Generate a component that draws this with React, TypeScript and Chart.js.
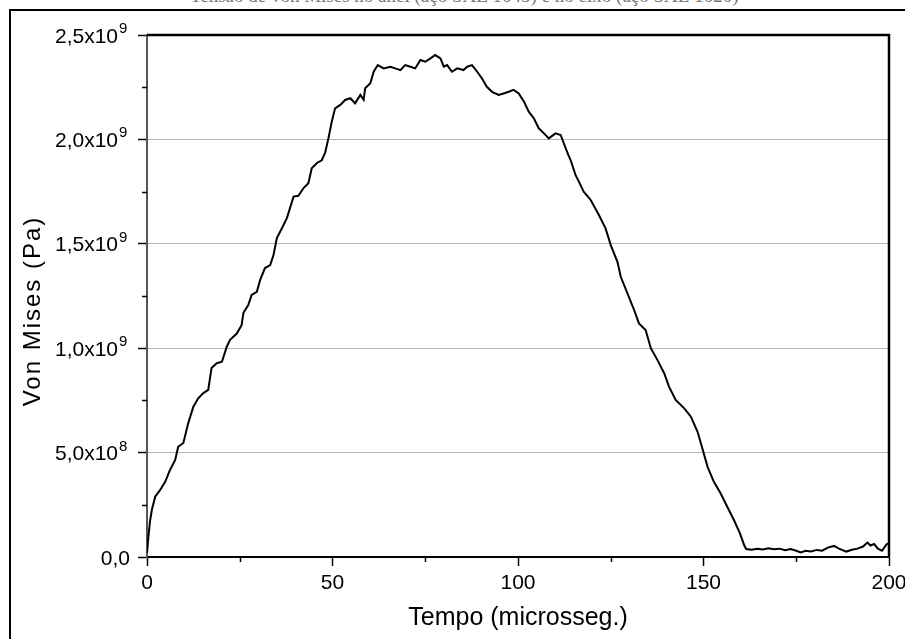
import React, { useEffect, useRef } from 'react';
import { Chart, registerables } from 'chart.js';

Chart.register(...registerables);

// Time in microseconds
const timeUs = [
  0, 0.4, 0.8, 1.3, 2.2, 3.5, 4.9, 6.2, 7.6, 8.4, 9.8, 11.1, 12.5, 13.8, 15.2, 16.5, 17.4, 18.8, 20.2,
  21.5, 22.4, 24.2, 25.5, 26.0, 27.3, 28.2, 29.6, 30.5, 31.8, 33.2, 34.1, 35.0, 36.4, 37.7, 39.5,
  40.8, 42.2, 43.5, 44.4, 45.8, 47.1, 48.0, 48.9, 49.8, 50.7, 52.1, 53.4, 54.8, 56.1, 57.5, 58.4,
  58.8, 60.2, 61.1, 62.2, 63.8, 65.6, 66.9, 68.3, 69.6, 71.0, 72.3, 73.7, 75.0, 76.4, 77.7, 79.1,
  80.0, 80.9, 82.2, 83.6, 85.3, 86.3, 87.6, 89.0, 90.3, 91.6, 93.0, 94.8, 96.1, 97.5, 98.8, 100.2,
  101.6, 102.9, 104.3, 105.6, 107.0, 108.3, 110.1, 111.5, 112.8, 113.7, 114.2, 115.5, 116.9, 117.7,
  119.6, 121.8, 123.6, 125.0, 126.8, 127.7, 129.5, 131.3, 132.6, 134.4, 135.8, 137.6, 139.4, 140.7,
  142.5, 144.8, 146.6, 148.4, 149.7, 151.1, 152.8, 154.6, 156.4, 158.2, 159.8, 160.5, 161.0, 161.5,
  163, 164.5, 166, 167.5, 169, 170.5, 172, 173.5, 175, 176.2, 177.5, 179, 180.5, 182, 183.5, 185.2,
  186.5, 188.5, 190, 191.5, 193, 194.2, 195, 196, 197, 198.1, 199.4, 200,
];

// Von Mises stress in units of 1e9 Pa
const vonMisesGPa = [
  0.02, 0.10, 0.17, 0.225, 0.289, 0.32, 0.36, 0.417, 0.465, 0.528, 0.546, 0.64, 0.72, 0.76, 0.785, 0.80, 0.905, 0.928, 0.935,
  1.007, 1.04, 1.07, 1.11, 1.17, 1.207, 1.255, 1.27, 1.327, 1.384, 1.398, 1.446, 1.527, 1.576, 1.623, 1.726,
  1.73, 1.767, 1.79, 1.862, 1.887, 1.90, 1.935, 2.005, 2.085, 2.149, 2.165, 2.189, 2.197, 2.173, 2.213, 2.19,
  2.245, 2.269, 2.324, 2.356, 2.34, 2.348, 2.34, 2.332, 2.356, 2.348, 2.34, 2.38, 2.372, 2.388, 2.404, 2.388,
  2.348, 2.356, 2.324, 2.34, 2.332, 2.348, 2.356, 2.324, 2.292, 2.252, 2.228, 2.213, 2.22, 2.228, 2.237, 2.22,
  2.181, 2.133, 2.10, 2.053, 2.029, 2.005, 2.029, 2.021, 1.96, 1.92, 1.90, 1.83, 1.78, 1.75,
  1.71, 1.638, 1.574, 1.494, 1.414, 1.342, 1.263, 1.183, 1.119, 1.087, 1.0, 0.943, 0.88, 0.816,
  0.752, 0.712, 0.672, 0.60, 0.52, 0.432, 0.36, 0.305, 0.241, 0.177, 0.114, 0.08, 0.055, 0.038,
  0.035, 0.04, 0.036, 0.042, 0.037, 0.04, 0.033, 0.038, 0.03, 0.022, 0.03, 0.026, 0.034, 0.03, 0.045, 0.053,
  0.04, 0.026, 0.035, 0.04, 0.05, 0.069, 0.055, 0.062, 0.04, 0.03, 0.062, 0.065,
];

const xMinorTicks = [25, 75, 125, 175];
const yMinorTicksGPa = [0.25, 0.75, 1.25, 1.75, 2.25];

const caption = 'Tensão de von Mises no anel (aço SAE 1045) e no eixo (aço SAE 1020)';
const xTitle = 'Tempo (microsseg.)';
const yTitle = 'Von Mises (Pa)';

const FONT = '"Liberation Sans", Arial, Helvetica, sans-serif';

function splitSci(v: number): { mant: string; exp: string } {
  if (v === 0) return { mant: '0,0', exp: '' };
  const e = Math.floor(Math.log10(Math.abs(v)) + 1e-9);
  const m = v / Math.pow(10, e);
  return { mant: m.toFixed(1).replace('.', ',') + 'x10', exp: String(e) };
}

const framePlugin = {
  id: 'framePlugin',
  afterDraw(chart: any) {
    const { ctx, chartArea: a, scales } = chart;
    const xs = scales.x;
    const ys = scales.y;
    ctx.save();
    // minor ticks
    ctx.strokeStyle = '#000';
    ctx.lineWidth = 1.5;
    for (const t of xMinorTicks) {
      const px = Math.round(xs.getPixelForValue(t)) + 0.5;
      ctx.beginPath();
      ctx.moveTo(px, a.bottom);
      ctx.lineTo(px, a.bottom + 5);
      ctx.stroke();
    }
    for (const v of yMinorTicksGPa) {
      const py = Math.round(ys.getPixelForValue(v * 1e9)) + 0.5;
      ctx.beginPath();
      ctx.moveTo(a.left, py);
      ctx.lineTo(a.left - 5, py);
      ctx.stroke();
    }
    // top and right border of the plot box
    ctx.lineWidth = 2.5;
    ctx.beginPath();
    ctx.moveTo(a.left, a.top);
    ctx.lineTo(a.right, a.top);
    ctx.lineTo(a.right, a.bottom);
    ctx.stroke();

    // y tick labels with superscript exponents
    ctx.fillStyle = '#000';
    for (const tk of ys.ticks) {
      const v = tk.value;
      const py = ys.getPixelForValue(v);
      const { mant, exp } = splitSci(v);
      ctx.font = `21px ${FONT}`;
      ctx.textBaseline = 'alphabetic';
      ctx.textAlign = 'right';
      if (!exp) {
        ctx.fillText(mant, a.left - 17, py + 7.5);
      } else {
        ctx.fillText(mant, a.left - 29, py + 7.5);
        ctx.font = `15px ${FONT}`;
        ctx.textAlign = 'left';
        ctx.fillText(exp, a.left - 28, py - 2);
      }
    }

    // y axis title
    ctx.translate(33, (a.top + a.bottom) / 2 + 15);
    ctx.rotate(-Math.PI / 2);
    ctx.font = `24px ${FONT}`;
    (ctx as any).letterSpacing = '2px';
    ctx.fillStyle = '#000';
    ctx.textAlign = 'center';
    ctx.textBaseline = 'middle';
    ctx.fillText(yTitle, 0, 0);
    ctx.restore();
  },
};

export default function App() {
  const canvasRef = useRef<HTMLCanvasElement | null>(null);

  useEffect(() => {
    if (!canvasRef.current) return;
    const points = timeUs.map((t, i) => ({ x: t, y: vonMisesGPa[i] * 1e9 }));
    const chart = new Chart(canvasRef.current, {
      type: 'line',
      data: {
        datasets: [
          {
            data: points,
            borderColor: '#000',
            borderWidth: 2,
            pointRadius: 0,
            tension: 0,
            fill: false,
          },
        ],
      },
      options: {
        animation: false,
        responsive: false,
        devicePixelRatio: 1,
        layout: { padding: { left: 0, right: 16, top: 35, bottom: 0 } },
        plugins: {
          legend: { display: false },
          tooltip: { enabled: false },
          title: { display: false },
        },
        scales: {
          x: {
            type: 'linear',
            min: 0,
            max: 200,
            afterFit: (s: any) => {
              s.height = 82;
              s.paddingRight = 0;
              s.paddingLeft = 0;
            },
            ticks: {
              stepSize: 50,
              padding: 5,
              color: '#000',
              font: { family: FONT, size: 21 },
              maxRotation: 0,
            },
            grid: {
              drawOnChartArea: false,
              drawTicks: true,
              tickLength: 9,
              tickWidth: 1.5,
              tickColor: '#000',
            },
            border: { display: true, color: '#000', width: 2 },
            title: {
              display: true,
              text: xTitle,
              color: '#000',
              font: { family: FONT, size: 25 },
              padding: { top: 0, bottom: 6 },
            },
          },
          y: {
            type: 'linear',
            min: 0,
            max: 2.5e9,
            afterFit: (s: any) => {
              s.width = 147;
              s.paddingTop = 0;
              s.paddingBottom = 0;
            },
            ticks: {
              stepSize: 0.5e9,
              padding: 8,
              color: '#000',
              font: { family: FONT, size: 21 },
              callback: () => '',
            },
            grid: {
              color: '#b4b4b4',
              lineWidth: 1,
              drawTicks: true,
              tickLength: 9,
              tickWidth: 1.5,
              tickColor: '#000',
            },
            border: { display: true, color: '#555', width: 2 },
          },
        },
      },
      plugins: [framePlugin],
    });
    return () => chart.destroy();
  }, []);

  return (
    <div
      style={{
        position: 'absolute',
        left: 0,
        top: 0,
        width: 905,
        height: 639,
        overflow: 'hidden',
        background: '#fff',
      }}
    >
      <div
        style={{
          position: 'absolute',
          left: 190,
          top: -15,
          whiteSpace: 'nowrap',
          fontFamily: '"Liberation Serif", serif',
          fontSize: 19,
          lineHeight: '22px',
          color: '#777',
        }}
      >
        {caption}
      </div>
      <div
        style={{
          position: 'absolute',
          left: 9,
          top: 9,
          width: 930,
          height: 660,
          border: '2px solid #000',
          boxSizing: 'border-box',
        }}
      />
      <canvas
        ref={canvasRef}
        width={905}
        height={639}
        style={{ position: 'absolute', left: 0, top: 0, width: 905, height: 639 }}
      />
    </div>
  );
}
